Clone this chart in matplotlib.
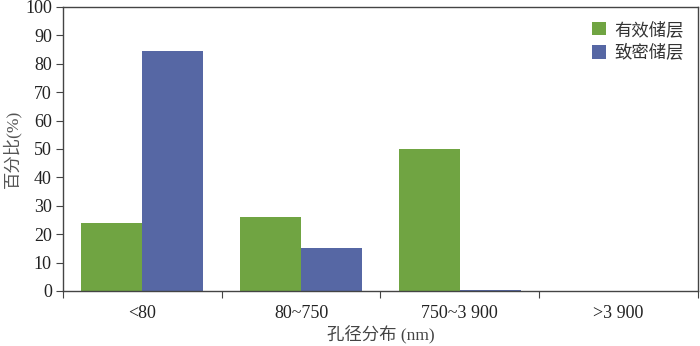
import numpy as np
import matplotlib
matplotlib.use('Agg')
import matplotlib.pyplot as plt

# Data
categories = ['<80', '80~750', '750~3 900', '>3 900']
effective = [24, 26, 50, 0]      # 有效储层
tight = [84.5, 15, 0.3, 0]       # 致密储层
series_names = ['有效储层', '致密储层']

green = '#70a442'
blue = '#5667a4'
serif = ['Liberation Serif', 'Noto Sans CJK SC']
cjk = ['Noto Sans CJK SC', 'Liberation Serif']

fig = plt.figure(figsize=(7, 3.46), dpi=100)
ax = fig.add_axes([0.09, 0.159, 0.907, 0.821])

x = np.arange(len(categories)) + 0.5
w = 0.384
ax.bar(x - w / 2, effective, w, color=green, label=series_names[0])
ax.bar(x + w / 2, tight, w, color=blue, label=series_names[1])

ax.set_xlim(0, len(categories))
ax.set_ylim(0, 100)
ax.set_yticks(range(0, 101, 10))

# boundary ticks without labels, labels at category centres
ax.set_xticks(range(len(categories) + 1))
ax.set_xticklabels([])
ax.set_xticks(x, minor=True)
ax.set_xticklabels(categories, minor=True)
ax.tick_params(axis='x', which='minor', length=0, pad=10)
ax.tick_params(axis='x', which='major', length=5, direction='out', color='#444444')
ax.tick_params(axis='y', length=5, direction='out', color='#444444', pad=3)

for lab in ax.get_xticklabels(minor=True) + ax.get_yticklabels():
    lab.set_family(serif)
    lab.set_fontsize(13)
    lab.set_color('#222222')

for sp in ax.spines.values():
    sp.set_color('#444444')
    sp.set_linewidth(1.0)

ax.set_ylabel('百分比(%)', family=serif, fontsize=12.5, color='#555555', labelpad=3)
ax.set_xlabel('孔径分布 (nm)', family=serif, fontsize=12.5, color='#444444', labelpad=3)

leg = ax.legend(loc='upper right', frameon=False, prop={'family': cjk, 'size': 12.5},
                handlelength=0.8, handleheight=0.8, handletextpad=0.5,
                labelspacing=0.3, borderaxespad=0.4)
for t in leg.get_texts():
    t.set_color('#333333')

fig.savefig('out.png', dpi=100)
